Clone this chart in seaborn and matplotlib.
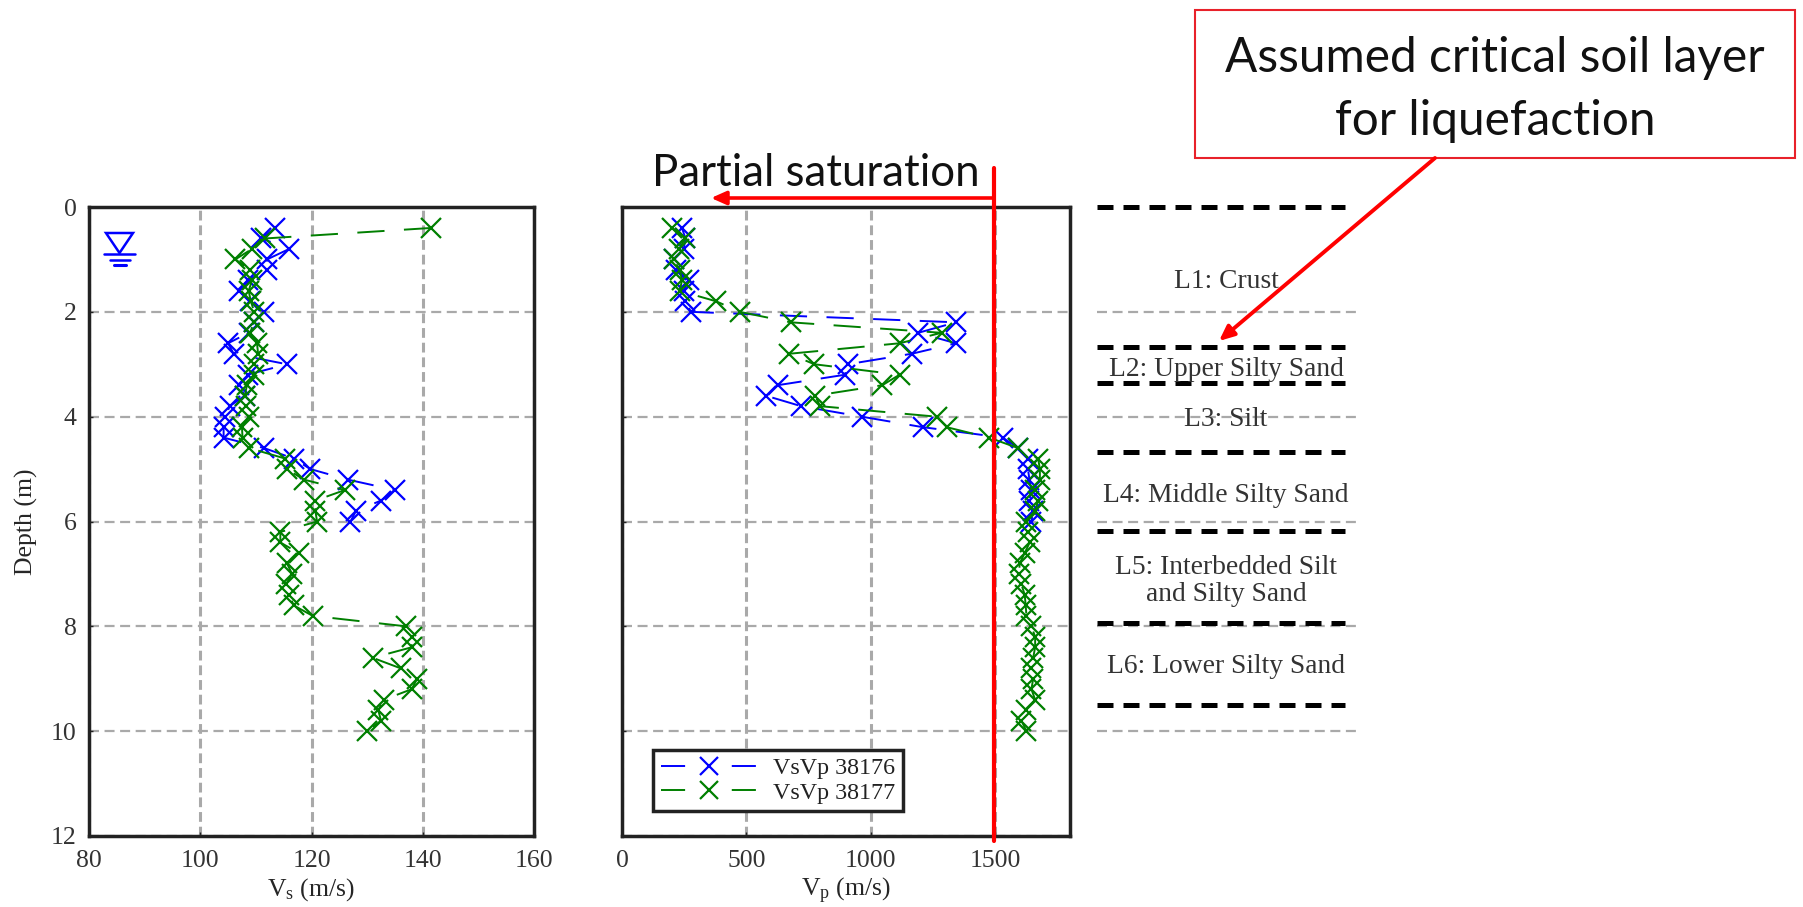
import pandas as pd
import matplotlib
matplotlib.use("Agg")
import matplotlib.pyplot as plt
from matplotlib.lines import Line2D
from matplotlib.patches import Rectangle, Polygon
import seaborn as sns

W, H = 1803, 907

# === Data ===
depth_a = [0.4 + 0.2 * i for i in range(29)]  # 0.4 to 6.0 m
depth_b = [0.4 + 0.2 * i for i in range(49)]  # 0.4 to 10.0 m

vs_38176 = [113.5, 111, 116, 112, 112, 108.5, 107, 109, 111.4, 109.6, 108.7, 105, 106, 115.6,
            108.5, 107, 108, 105.3, 104.5, 104.2, 104.2, 111.5, 116.8, 119.8, 126.5, 135, 132.5, 128, 127]
vs_38177 = [141.5, 111.7, 109.3, 106.3, 109, 109.3, 108.7, 109.1, 109.7, 109.6, 109, 110.2, 110.4, 109.6,
            109.6, 108.4, 108, 108.3, 108.7, 107.5, 107.6, 108.8, 115.3, 115.6, 118.6, 126, 120.7, 120.7, 121,
            114.4, 114.4, 117.7, 115.6, 116.5, 115.4, 116, 116.8, 120.2, 137, 138, 138, 131, 136, 139, 138,
            133, 132, 132.5, 130]
vp_38176 = [241, 255, 248, 208, 215, 268, 248, 255, 277, 1342, 1190, 1342, 1164, 907, 896, 625, 578, 720,
            963, 1208, 1530, 1592, 1631, 1631, 1637, 1644, 1637, 1652, 1645]
vp_38177 = [201, 255, 228, 208, 232, 241, 232, 379, 473, 678, 1284, 1115, 672, 773, 1115, 1046, 776, 796,
            1264, 1304, 1475, 1592, 1672, 1679, 1679, 1660, 1672, 1660, 1625, 1631, 1638, 1618, 1598, 1595,
            1605, 1618, 1622, 1625, 1645, 1660, 1660, 1652, 1645, 1652, 1645, 1660, 1625, 1605, 1625]

layer_tops = [0, 2.67, 3.36, 4.67, 6.18, 7.93, 9.5]
layer_names = ["L1: Crust", "L2: Upper Silty Sand", "L3: Silt", "L4: Middle Silty Sand",
               "L5: Interbedded Silt\nand Silty Sand", "L6: Lower Silty Sand"]
layer_label_depths = [1.43, 3.10, 4.06, 5.50, 7.13, 8.77]
depth_ticks = [0, 2, 4, 6, 8, 10, 12]

BLUE = "#0000ff"
GREEN = "#007f00"
GRID = "#a9a9a9"
SPINE = "#222222"

sns.set_style("white")
plt.rcParams["font.family"] = ["Liberation Serif", "DejaVu Serif"]
plt.rcParams["mathtext.fontset"] = "custom"
plt.rcParams["mathtext.rm"] = "Liberation Serif"
plt.rcParams["text.color"] = "#222222"


def add_axes_px(fig, left, top, right, bottom):
    return fig.add_axes([left / W, 1 - bottom / H, (right - left) / W, (bottom - top) / H])


def draw_series(ax, values, depth, color):
    df = pd.DataFrame({"v": values, "depth": depth})
    sns.lineplot(data=df, x="v", y="depth", ax=ax, sort=False, estimator=None, color=color,
                 linewidth=1.4, linestyle=(0, (14, 10)), marker="x", markersize=14,
                 markeredgewidth=1.6, markeredgecolor=color, legend=False)


def legend_handle(color):
    return Line2D([], [], color=color, linewidth=1.4, linestyle=(0, (12.4, 24)), marker="x", markersize=13,
                  markeredgewidth=1.6, markeredgecolor=color)


def style_axes(ax, xlim, xticks, xlabel):
    ax.set_xlim(*xlim)
    ax.set_ylim(12, 0)
    ax.set_xticks(xticks)
    ax.set_yticks(depth_ticks)
    ax.set_xlabel(xlabel, fontsize=18.5, labelpad=3)
    ax.grid(True, axis="y", color=GRID, linestyle=(0, (4.5, 2.5)), linewidth=1.6)
    ax.grid(True, axis="x", color=GRID, linestyle=(0, (3.2, 1.6)), linewidth=2.2)
    ax.set_axisbelow(True)
    ax.tick_params(axis="both", direction="in", length=3, width=1, color="#222222", labelsize=18.5,
                   labelcolor="#333333", bottom=True, left=True)
    ax.tick_params(axis="x", pad=10)
    ax.tick_params(axis="y", pad=9)
    for s in ax.spines.values():
        s.set_color(SPINE)
        s.set_linewidth(2.5)


fig = plt.figure(figsize=(W / 100, H / 100), dpi=100)

# === Vs panel ===
ax_vs = add_axes_px(fig, 89, 207, 534, 836)
draw_series(ax_vs, vs_38176, depth_a, BLUE)
draw_series(ax_vs, vs_38177, depth_b, GREEN)
style_axes(ax_vs, (80, 160), [80, 100, 120, 140, 160], r"$\mathrm{V_s}$ (m/s)")
ax_vs.set_ylabel("Depth (m)", fontsize=18.5, labelpad=9)

# === Vp panel ===
ax_vp = add_axes_px(fig, 622, 207, 1070, 836)
draw_series(ax_vp, vp_38176, depth_a, BLUE)
draw_series(ax_vp, vp_38177, depth_b, GREEN)
style_axes(ax_vp, (0, 1800), [0, 500, 1000, 1500], r"$\mathrm{V_p}$ (m/s)")
ax_vp.set_ylabel("")
ax_vp.tick_params(axis="y", labelleft=False)
leg = ax_vp.legend(handles=[legend_handle(BLUE), legend_handle(GREEN)], labels=["VsVp 38176", "VsVp 38177"],
                   loc="lower left", bbox_to_anchor=(0.07, 0.04), fontsize=17.3, handlelength=4.0,
                   fancybox=False, framealpha=1, edgecolor=SPINE, borderpad=0.3, labelspacing=0.12,
                   handletextpad=0.7, borderaxespad=0)
leg.get_frame().set_linewidth(2.5)

# === Layer column ===
ax_lay = add_axes_px(fig, 1097, 207, 1356, 836)
ax_lay.set_xlim(0, 259)
ax_lay.set_ylim(12, 0)
ax_lay.axis("off")
for d in depth_ticks[1:-1]:
    ax_lay.axhline(d, color=GRID, linestyle=(0, (4.5, 2.5)), linewidth=1.6)
for d in layer_tops:
    ax_lay.plot([0, 248], [d, d], color="black", linestyle=(0, (3.2, 2)), linewidth=3.6, clip_on=False)
for name, d in zip(layer_names, layer_label_depths):
    ax_lay.text(129, d, name, ha="center", va="center", fontsize=19.8, linespacing=1.12, color="#333333")

# === Overlay in picture pixels: annotations and water table sign ===
ov = fig.add_axes([0, 0, 1, 1], zorder=10)
ov.set_xlim(0, W)
ov.set_ylim(H, 0)
ov.axis("off")
ov.patch.set_alpha(0)

ov.add_line(Line2D([994, 994], [168, 841], color="#ff0000", linewidth=3))
ov.annotate("", xy=(711, 198), xytext=(994, 198),
            arrowprops=dict(arrowstyle="-|>,head_length=0.9,head_width=0.4", color="#ff0000", lw=2.6, shrinkA=0, shrinkB=0))
ov.text(816, 173, "Partial saturation", ha="center", va="center", fontsize=31.5, family="Lato", color="#111111")

ov.add_patch(Rectangle((1195, 10), 600, 148, facecolor="white", edgecolor="#e8212a", linewidth=1.5))
ov.text(1495, 58, "Assumed critical soil layer", ha="center", va="center", fontsize=34.4, family="Lato", color="#111111")
ov.text(1495, 121, "for liquefaction", ha="center", va="center", fontsize=34.4, family="Lato", color="#111111")
ov.annotate("", xy=(1219, 341), xytext=(1435, 158),
            arrowprops=dict(arrowstyle="-|>,head_length=0.9,head_width=0.4", color="#ff0000", lw=2.8, shrinkA=0, shrinkB=0))

ov.add_patch(Polygon([(106, 233), (133, 233), (119.5, 253)], closed=True, fill=False, edgecolor=BLUE, linewidth=1.8))
ov.add_line(Line2D([104, 135], [254, 254], color=BLUE, linewidth=1.8))
ov.add_line(Line2D([110, 130], [260, 260], color=BLUE, linewidth=1.8))
ov.add_line(Line2D([114, 126], [265, 265], color=BLUE, linewidth=2.2))

fig.savefig("out.png", dpi=100, facecolor="white")
